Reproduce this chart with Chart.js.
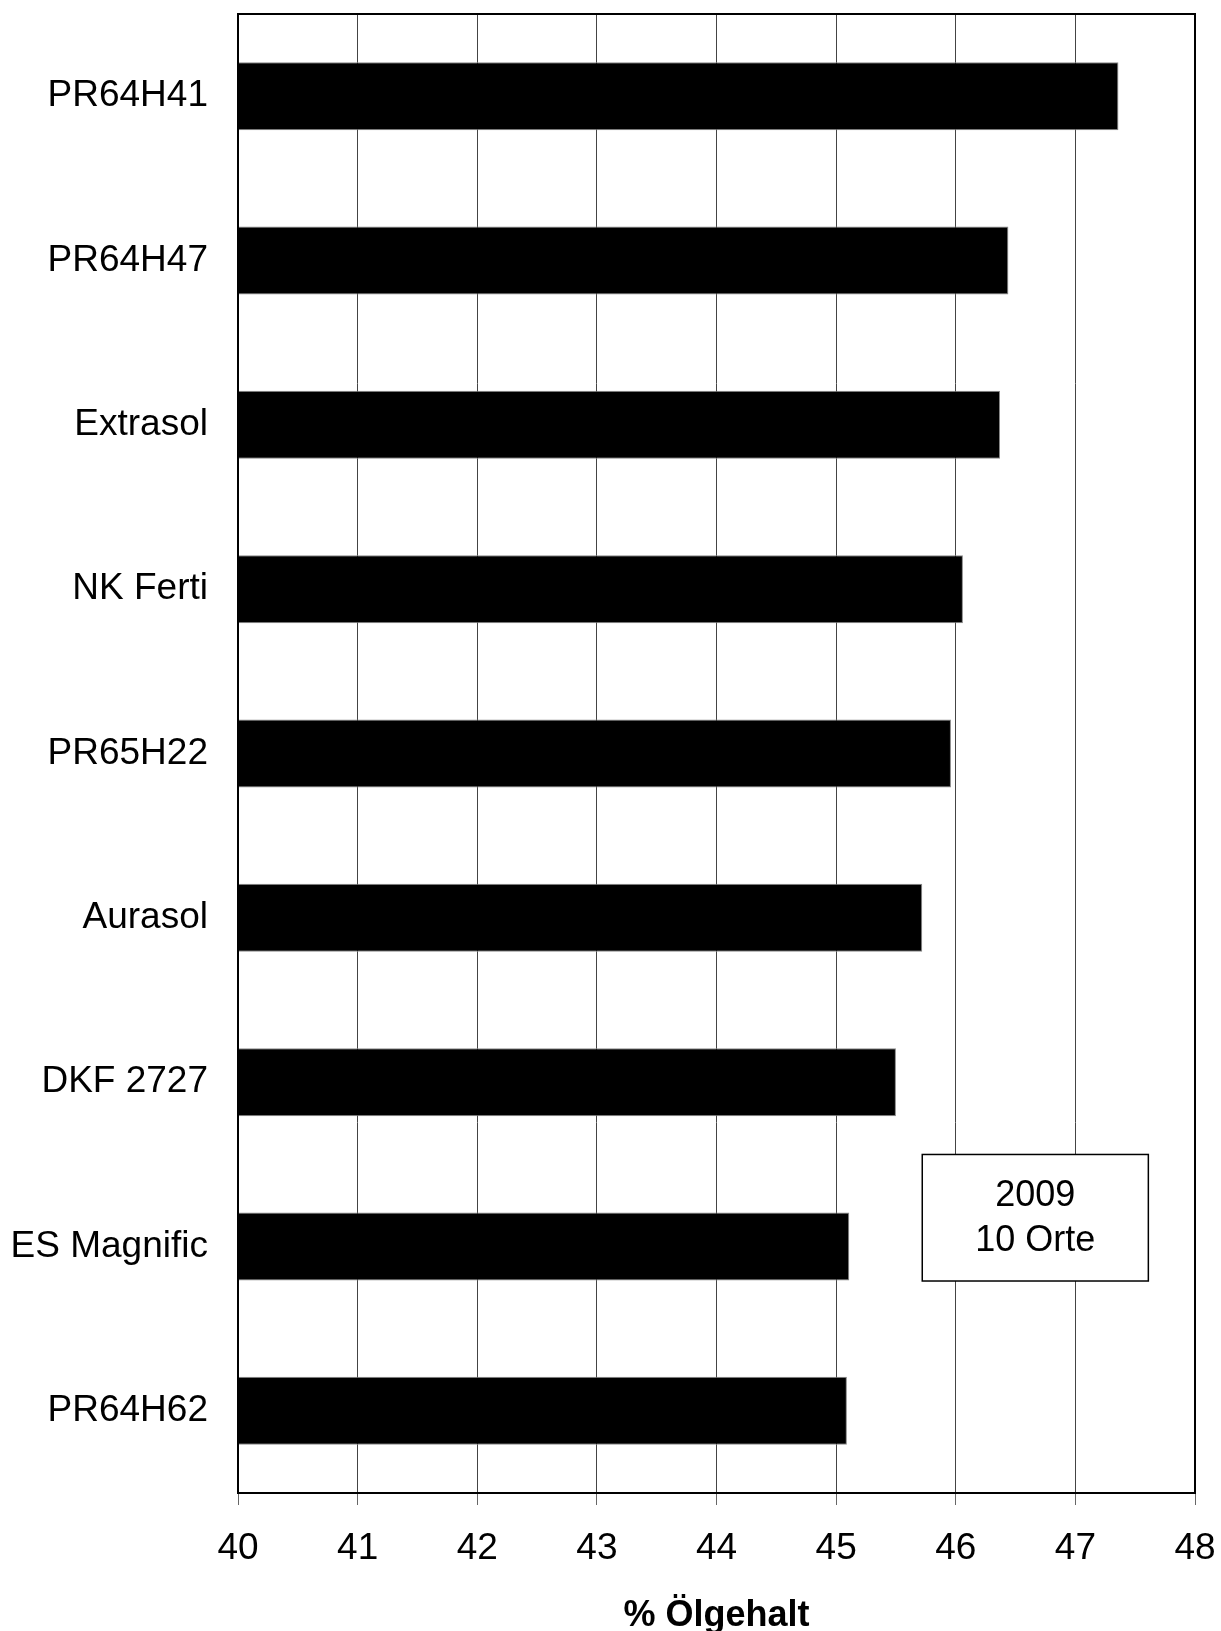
<!DOCTYPE html>
<html>
<head>
<meta charset="utf-8">
<script src="https://cdn.jsdelivr.net/npm/chart.js@4"></script>
<style>
  html, body { margin: 0; padding: 0; background: #fff; }
  #wrap { width: 1221px; height: 1631px; position: relative; }
</style>
</head>
<body>
<div id="wrap"><canvas id="c"></canvas></div>
<script>
const categories = ["PR64H41", "PR64H47", "Extrasol", "NK Ferti", "PR65H22", "Aurasol", "DKF 2727", "ES Magnific", "PR64H62"];
const oilContent = [47.36, 46.44, 46.37, 46.06, 45.96, 45.72, 45.50, 45.11, 45.09];
const xTicks = [40, 41, 42, 43, 44, 45, 46, 47, 48];
const axisTitle = "% Ölgehalt";
const noteLines = ["2009", "10 Orte"];

Chart.defaults.font.family = "'Liberation Sans', Arial, sans-serif";
Chart.defaults.color = "#000";

const framePlugin = {
  id: 'frame',
  afterDatasetsDraw(chart) {
    const {ctx, chartArea: a, scales} = chart;
    ctx.save();
    ctx.strokeStyle = '#000';
    ctx.lineWidth = 2;
    ctx.strokeRect(a.left, a.top, a.right - a.left, a.bottom - a.top);
    // note box
    const x0 = scales.x.getPixelForValue(45.72);
    const x1 = scales.x.getPixelForValue(47.61);
    const y0 = scales.y.getPixelForValue(6.44);
    const y1 = scales.y.getPixelForValue(7.21);
    ctx.fillStyle = '#fff';
    ctx.fillRect(x0, y0, x1 - x0, y1 - y0);
    ctx.lineWidth = 1.5;
    ctx.strokeStyle = '#000';
    ctx.strokeRect(x0, y0, x1 - x0, y1 - y0);
    ctx.fillStyle = '#000';
    ctx.font = "36px 'Liberation Sans', Arial, sans-serif";
    ctx.textAlign = 'center';
    ctx.textBaseline = 'middle';
    const cx = (x0 + x1) / 2, cy = (y0 + y1) / 2;
    ctx.fillText(noteLines[0], cx, cy - 22);
    ctx.fillText(noteLines[1], cx, cy + 23);
    ctx.restore();
  }
};

new Chart(document.getElementById('c'), {
  type: 'bar',
  data: {
    labels: categories,
    datasets: [{
      data: oilContent,
      backgroundColor: '#000',
      borderColor: '#888',
      borderWidth: 1,
      barPercentage: 0.414,
      categoryPercentage: 1.0
    }]
  },
  options: {
    indexAxis: 'y',
    responsive: true,
    maintainAspectRatio: false,
    devicePixelRatio: 1,
    animation: false,
    layout: { padding: { top: 14, right: 26, bottom: 0, left: 0 } },
    plugins: { legend: { display: false }, tooltip: { enabled: false } },
    scales: {
      x: {
        type: 'linear',
        min: 40,
        max: 48,
        afterBuildTicks(scale) { scale.ticks = xTicks.map(v => ({ value: v })); },
        afterFit(scale) { scale.height = 138; scale.paddingLeft = 0; scale.paddingRight = 0; },
        grid: { color: '#444', lineWidth: 1, tickLength: 12, tickColor: '#666' },
        border: { color: '#000', width: 2 },
        ticks: { font: { size: 37 }, padding: 22, color: '#000', maxRotation: 0 },
        title: { display: true, text: axisTitle, font: { size: 36, weight: 'bold' }, padding: { top: 0, bottom: -7 }, color: '#000' }
      },
      y: {
        type: 'category',
        afterFit(scale) { scale.width = 238; scale.paddingTop = 0; scale.paddingBottom = 0; },
        grid: { display: false, drawTicks: false },
        border: { color: '#000', width: 2 },
        ticks: { font: { size: 37 }, padding: 30, color: '#000' }
      }
    }
  },
  plugins: [framePlugin]
});
</script>
</body>
</html>
